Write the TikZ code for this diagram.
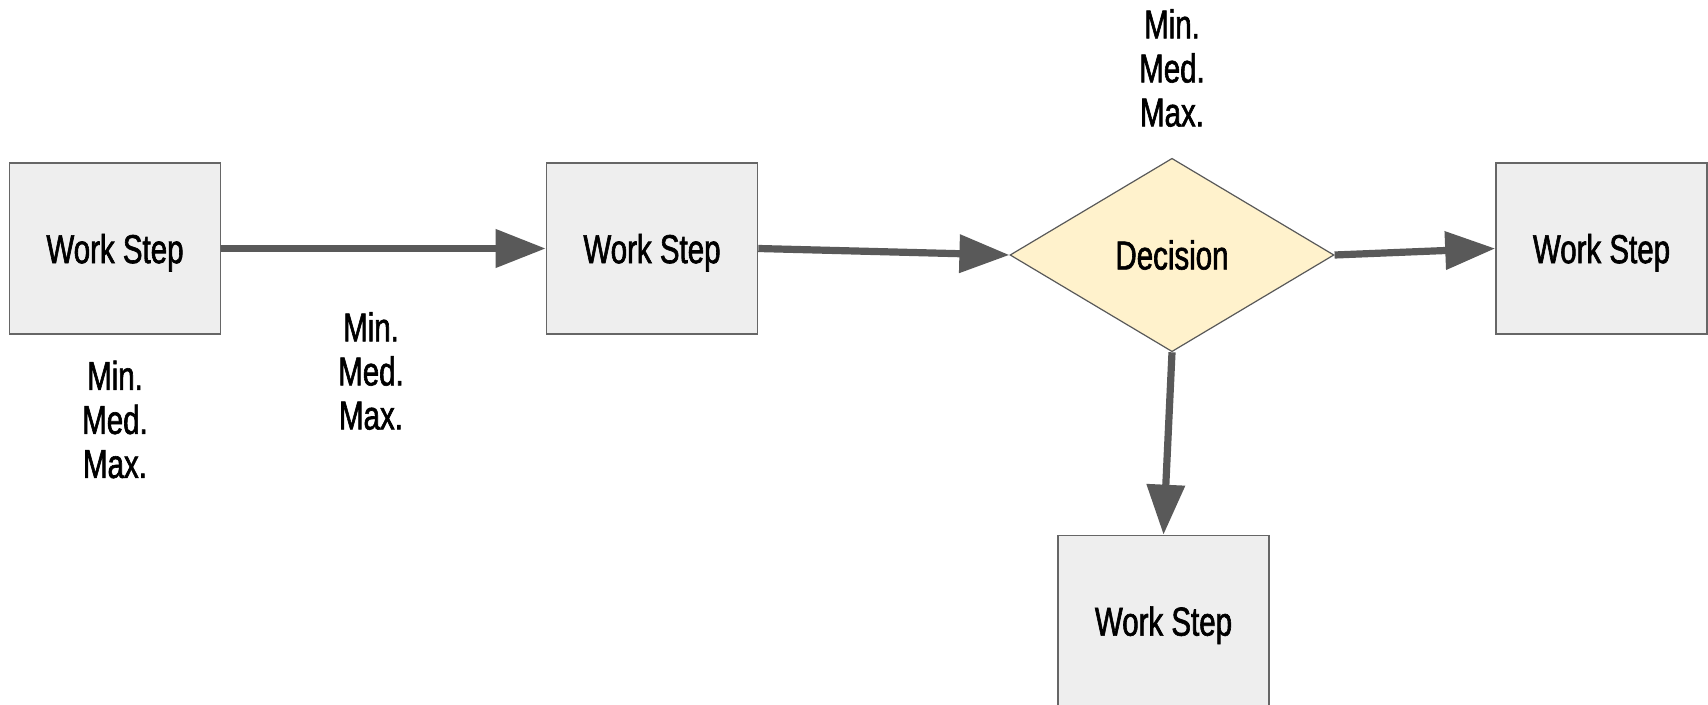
\documentclass[tikz,border=0pt]{standalone}
\usepackage{fontspec}
\setmainfont{Liberation Sans}[FakeStretch=0.73,FakeBold=1.5]
\usetikzlibrary{arrows.meta,shapes.geometric}

\definecolor{boxfill}{HTML}{EEEEEE}
\definecolor{boxline}{HTML}{666666}
\definecolor{decfill}{HTML}{FFF2CC}
\definecolor{flowgray}{HTML}{595959}

\begin{document}
\begin{tikzpicture}[x=0.5pt, y=-0.5pt,
    workstep/.style ={rectangle, draw=boxline, fill=boxfill, line width=0.8pt,
      minimum width=105.5pt, minimum height=85.5pt, inner sep=0pt, text depth=0pt,
      font=\fontsize{20.2pt}{21.8pt}\selectfont},
    decision/.style ={diamond, draw=flowgray, fill=decfill, line width=0.6pt,
      minimum width=162pt, minimum height=96.7pt, inner sep=0pt,
      font=\fontsize{20.2pt}{21.8pt}\selectfont},
    times/.style ={align=center, inner sep=0pt,
      font=\fontsize{20.2pt}{22pt}\selectfont},
    flow/.style ={draw=flowgray, line width=3.6pt,
      -{Triangle[length=25pt, width=18.5pt]}}]
   \useasboundingbox (0,0) rectangle (1708,705);

   \node[workstep] (S1) at (115,248.5)    {Work Step};
   \node[workstep] (S2) at (652,248.5)    {Work Step};
   \node[decision] (D)  at (1172,255)     {Decision};
   \node[workstep] (S3) at (1601.5,248.5) {Work Step};
   \node[workstep] (S4) at (1163.5,621)   {Work Step};

   \node[times] (T1) at (115,419.5) {Min.\\Med.\\Max.};
   \node[times] (T2) at (371,371)   {Min.\\Med.\\Max.};
   \node[times] (T3) at (1172,68)   {Min.\\Med.\\Max.};

   \draw[flow] (S1.east)  to (S2.west);
   \draw[flow] (S2.east)  to (D.west);
   \draw[flow] (D.east)   to (S3.west);
   \draw[flow] (D.south)  to (S4.north);
 \end{tikzpicture}
\end{document}
